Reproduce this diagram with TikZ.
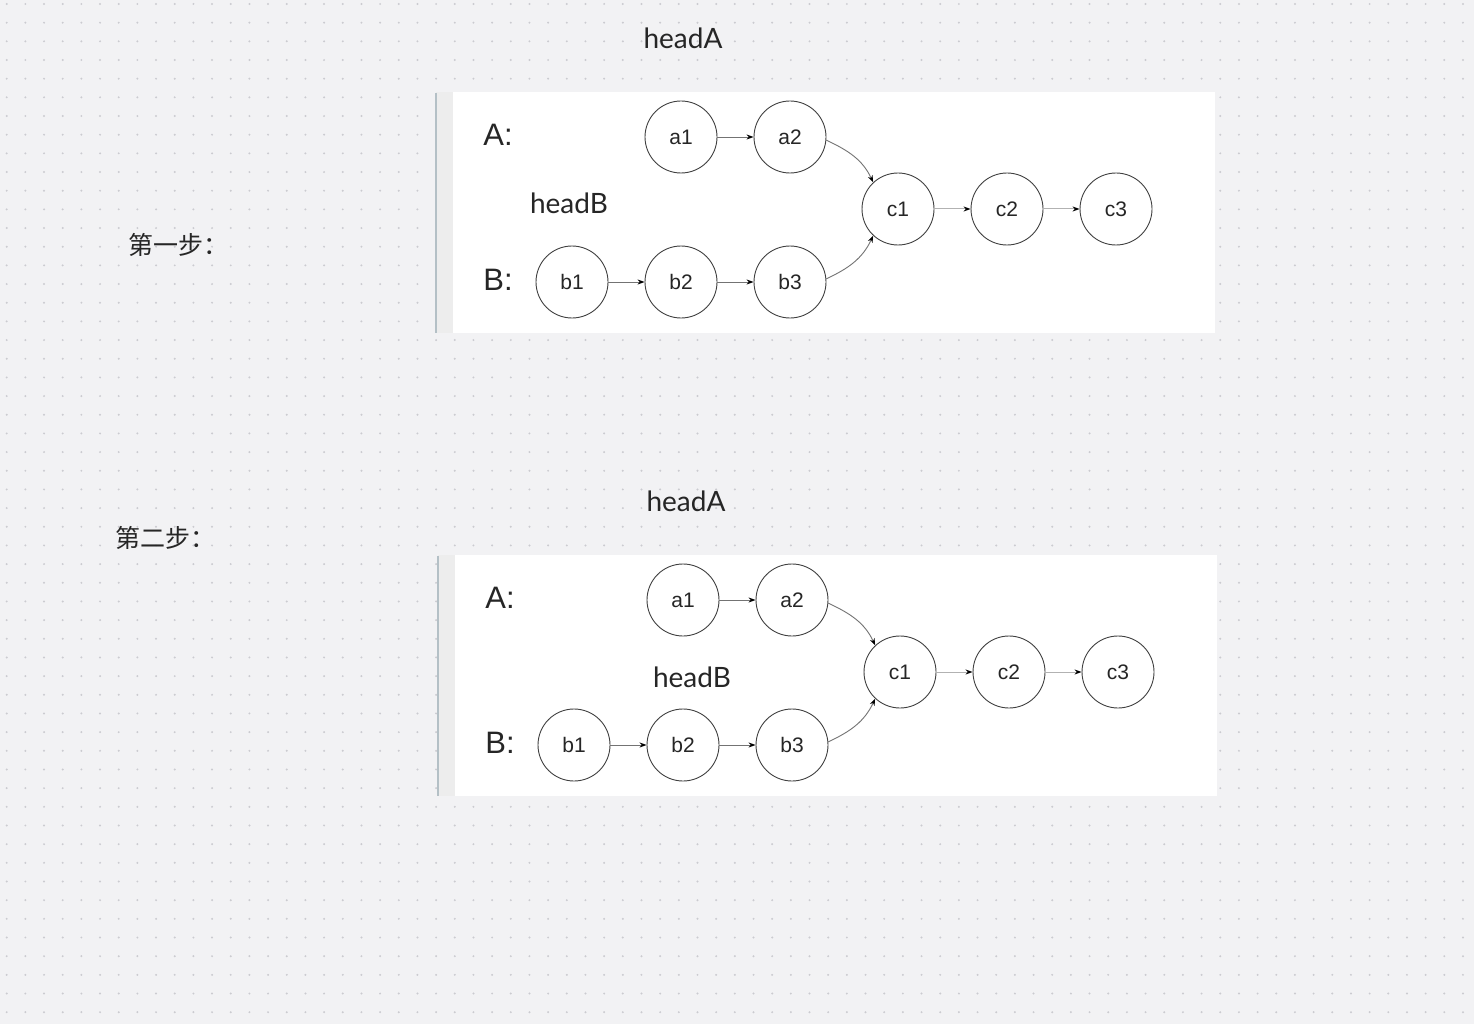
\documentclass[tikz,border=0pt]{standalone}
\usepackage{fontspec}
\setmainfont{Lato}
\newfontfamily\arialf{Liberation Sans}
\newfontfamily\cjk{Noto Sans CJK SC}
\usetikzlibrary{arrows.meta}
\definecolor{bg}{HTML}{F2F2F4}
\definecolor{dotc}{HTML}{CBCBD0}
\definecolor{stripc}{HTML}{EDEDED}
\definecolor{barc}{HTML}{B4C0C6}
\tikzset{
  listnode/.style={circle, draw=black!75, line width=0.9pt, minimum size=72pt, inner sep=0pt,
    font=\arialf\fontsize{21}{24}\selectfont, text=black!85},
  link/.style={draw=black!55, line width=0.9pt, -{Stealth[length=7pt,width=5pt,black]}},
  lightlink/.style={draw=black!30, line width=1pt, -{Stealth[length=7pt,width=5pt,black]}},
  biglabel/.style={font=\arialf\fontsize{31}{36}\selectfont, text=black!85},
  headlabel/.style={font=\fontsize{28}{32}\selectfont, text=black!85},
  steplabel/.style={font=\cjk\fontsize{25}{28}\selectfont, anchor=west, text=black!85},
}
\newcommand\drawpanel[3]{%
  \fill[white] (453,92) rectangle (1215,333);
  \fill[stripc] (436,92) rectangle (453,333);
  \draw[barc, line width=1.5pt] (436,93) -- (436,333);
  \node[biglabel] (#1A) at (498,135) {A:};
  \node[biglabel] (#1B) at (498,280) {B:};
  \node[headlabel] (#1hb) at (#2,#3) {headB};
  \node[listnode] (#1a1) at (681,137) {a1};
  \node[listnode] (#1a2) at (790,137) {a2};
  \node[listnode] (#1b1) at (572,282) {b1};
  \node[listnode] (#1b2) at (681,282) {b2};
  \node[listnode] (#1b3) at (790,282) {b3};
  \node[listnode] (#1c1) at (898,209) {c1};
  \node[listnode] (#1c2) at (1007,209) {c2};
  \node[listnode] (#1c3) at (1116,209) {c3};
  \draw[link] (#1a1) -- (#1a2);
  \draw[link] (#1b1) -- (#1b2);
  \draw[link] (#1b2) -- (#1b3);
  \draw[link] (#1a2.-5) to[out=-25, in=115] (#1c1.133);
  \draw[link] (#1b3.5) to[out=25, in=-115] (#1c1.-133);
  \draw[lightlink] (#1c1) -- (#1c2);
  \draw[lightlink] (#1c2) -- (#1c3);
}
\begin{document}
\begin{tikzpicture}[x=1pt,y=-1pt]
  \fill[bg] (0,0) rectangle (1474,1024);
  \useasboundingbox (0,0) rectangle (1474,1024);
  \foreach \i in {0,...,78}{
    \foreach \j in {0,...,54}{
      \fill[dotc] ({6.7+18.67*\i},{4+18.67*\j}) circle (1.1pt);
    }
  }
  \node[headlabel] (hA1) at (683,38) {headA};
  \node[steplabel] (s1) at (125,245) {第一步：};
  \drawpanel{p}{569}{203}
  \node[headlabel] (hA2) at (686,501) {headA};
  \node[steplabel] (s2) at (112,538) {第二步：};
  \begin{scope}[shift={(2,463)}]
    \drawpanel{q}{690}{214}
  \end{scope}
\end{tikzpicture}
\end{document}
